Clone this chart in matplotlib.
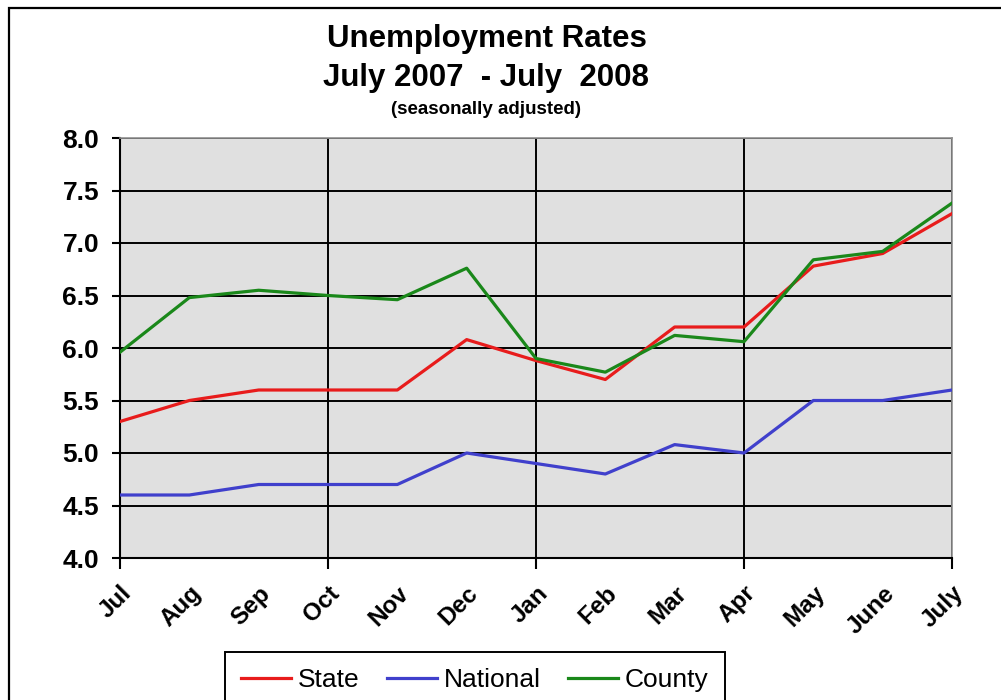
import matplotlib.pyplot as plt
import matplotlib.patches as patches
import numpy as np

months = ["Jul", "Aug", "Sep", "Oct", "Nov", "Dec", "Jan",
          "Feb", "Mar", "Apr", "May", "June", "July"]
state = [5.3, 5.5, 5.6, 5.6, 5.6, 6.08, 5.88, 5.7, 6.2, 6.2, 6.78, 6.9, 7.28]
national = [4.6, 4.6, 4.7, 4.7, 4.7, 5.0, 4.9, 4.8, 5.08, 5.0, 5.5, 5.5, 5.6]
county = [5.96, 6.48, 6.55, 6.5, 6.46, 6.76, 5.9, 5.77, 6.12, 6.06, 6.84, 6.92, 7.38]

plt.rcParams["font.family"] = ["Liberation Sans", "DejaVu Sans"]

fig = plt.figure(figsize=(10.01, 7.0), dpi=100)
ax = fig.add_axes([120 / 1001, 1 - 558 / 700, 832 / 1001, 420 / 700])
ax.set_facecolor("#e0e0e0")

x = np.arange(len(months))
ax.plot(x, state, color="#e81c1c", lw=2.3, label="State", zorder=3)
ax.plot(x, national, color="#4040cc", lw=2.3, label="National", zorder=3)
ax.plot(x, county, color="#1a881a", lw=2.3, label="County", zorder=3)

ax.set_xlim(0, len(months) - 1)
ax.set_ylim(4.0, 8.0)
yt = np.arange(4.0, 8.01, 0.5)
ax.set_yticks(yt)
ax.set_yticklabels([f"{v:.1f}" for v in yt], fontsize=19, fontweight="bold")

# gridlines / tick marks every quarter, labels every month
ax.xaxis.remove_overlapping_locs = False
ax.set_xticks(np.arange(0, 13, 3))
ax.set_xticklabels([])
ax.set_xticks(x, minor=True)
ax.set_xticklabels(months, minor=True, fontsize=17.5, fontweight="bold",
                   rotation=45, ha="right", va="top", rotation_mode="anchor")
ax.tick_params(axis="x", which="minor", length=0, pad=17)
ax.tick_params(axis="x", which="major", length=8, width=1.5, color="black")
ax.tick_params(axis="y", length=6, width=1.5, color="black", pad=9)

ax.grid(True, which="major", color="black", lw=1.4)
ax.set_axisbelow(True)
for side in ["top", "right"]:
    ax.spines[side].set_color("#909090")
    ax.spines[side].set_linewidth(1.2)
for side in ["left", "bottom"]:
    ax.spines[side].set_color("black")
    ax.spines[side].set_linewidth(1.5)

fig.text(0.486, 1 - 39 / 700, "Unemployment Rates", ha="center", va="center",
         fontsize=22.5, fontweight="bold")
fig.text(0.486, 1 - 78 / 700, "July 2007  - July  2008", ha="center",
         va="center", fontsize=22.5, fontweight="bold")
fig.text(0.486, 1 - 109 / 700, "(seasonally adjusted)", ha="center",
         va="center", fontsize=13.5, fontweight="bold")

# outer frame, running off the right and bottom edges
fig.patches.append(patches.Rectangle((9 / 1001, -0.1), 1.1, 1 - 8 / 700 + 0.1,
                                     transform=fig.transFigure, fill=False,
                                     edgecolor="black", lw=1.6))

leg = fig.legend(loc="upper left", bbox_to_anchor=(225 / 1001, 1 - 652 / 700),
                 ncol=3, fancybox=False, edgecolor="black", framealpha=1,
                 prop={"size": 19},
                 handlelength=1.9, handletextpad=0.25, columnspacing=1.05,
                 borderpad=0.6, borderaxespad=0)
leg.get_frame().set_linewidth(1.4)

fig.savefig("out.png", dpi=100)
